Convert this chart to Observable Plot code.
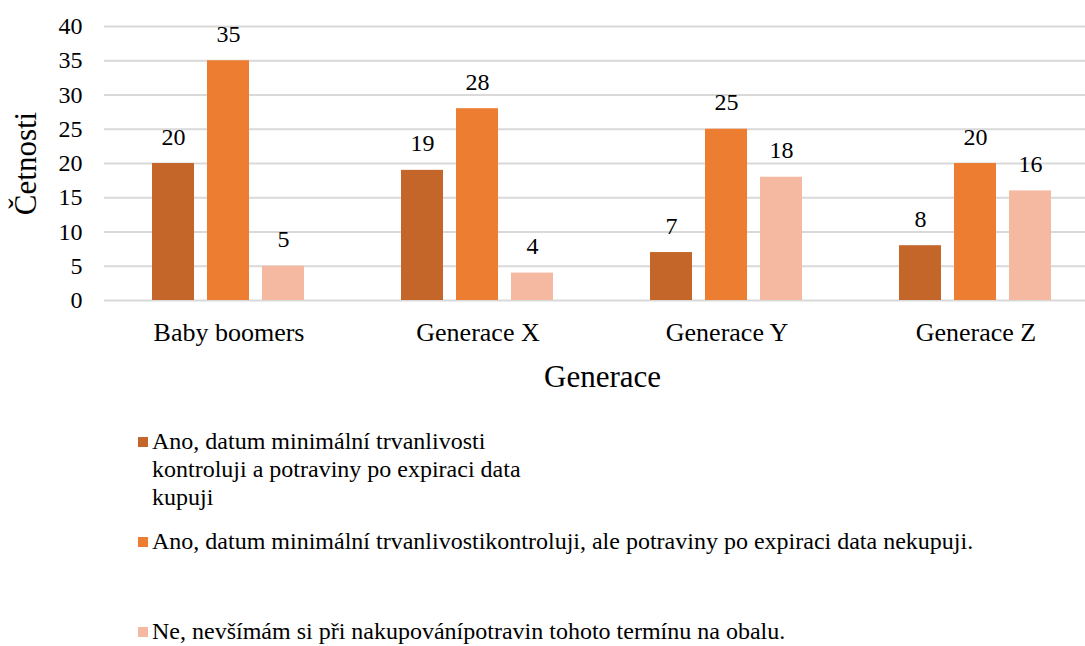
<!DOCTYPE html>
<html>
<head>
<meta charset="utf-8">
<script src="https://cdn.jsdelivr.net/npm/d3@7"></script>
<script src="https://cdn.jsdelivr.net/npm/@observablehq/plot@0.6"></script>
<style>
  html, body { margin: 0; padding: 0; background: #fff; }
  body { width: 1085px; height: 646px; overflow: hidden; font-family: "Liberation Serif", "DejaVu Serif", "Times New Roman", serif; color: #000; }
  #chart svg { display: block; overflow: visible; }
  #chart svg, #chart svg text { font-family: "Liberation Serif", "DejaVu Serif", "Times New Roman", serif !important; }
  #chart g[aria-label="fx-axis label"] text, #chart g[aria-label="y-axis label"] text { font-size: 31px; }
  #legend { margin-top: 27px; margin-left: 138px; font-size: 24px; line-height: 28px; }
  .item { display: flex; align-items: flex-start; }
  .sw { width: 10px; height: 10px; margin-top: 10px; margin-right: 4px; flex: none; }
  .item1 .txt { width: 390px; }
  .item2 { margin-top: 16px; }
  .item3 { margin-top: 62px; }
</style>
</head>
<body>
<div id="chart"></div>
<div id="legend"></div>
<script>
const generations = ["Baby boomers", "Generace X", "Generace Y", "Generace Z"];
const seriesNames = [
  "Ano, datum minimální trvanlivosti kontroluji a potraviny po expiraci data kupuji",
  "Ano, datum minimální trvanlivostikontroluji, ale potraviny po expiraci data nekupuji.",
  "Ne, nevšímám si při nakupovánípotravin tohoto termínu na obalu."
];
const valuesS1 = [20, 19, 7, 8];
const valuesS2 = [35, 28, 25, 20];
const valuesS3 = [5, 4, 18, 16];
const seriesColors = ["#c4662a", "#ed7d31", "#f5b9a2"];
const yTicks = [0, 5, 10, 15, 20, 25, 30, 35, 40];

const seriesValues = [valuesS1, valuesS2, valuesS3];
const data = [];
generations.forEach((g, i) => {
  seriesNames.forEach((s, j) => {
    data.push({generation: g, series: s, value: seriesValues[j][i]});
  });
});

const chart = Plot.plot({
  width: 1085,
  height: 400,
  marginTop: 26,
  marginBottom: 100,
  marginLeft: 104,
  marginRight: -15,
  style: {color: "#000", background: "#fff"},
  fx: {domain: generations, paddingInner: 0, paddingOuter: 0, label: "Generace"},
  x: {domain: seriesNames, paddingInner: 0.23, paddingOuter: 0.84, axis: null},
  y: {domain: [0, 40], ticks: yTicks, label: "Četnosti"},
  color: {domain: seriesNames, range: seriesColors},
  marks: [
    Plot.gridY(yTicks, {stroke: "#d9d9d9", strokeOpacity: 1, strokeWidth: 2}),
    Plot.axisY(yTicks, {tickSize: 0, tickPadding: 22, fontSize: 24, label: "Četnosti", labelAnchor: "center", labelOffset: 91, labelArrow: "none"}),
    Plot.axisFx({anchor: "bottom", tickSize: 0, tickPadding: 22, fontSize: 26, label: "Generace", labelAnchor: "center", labelOffset: 86, labelArrow: "none"}),
    Plot.barY(data, {fx: "generation", x: "series", y: "value", fill: "series"}),
    Plot.text(data, {fx: "generation", x: "series", y: "value", text: d => String(d.value), dy: -19, lineAnchor: "bottom", fontSize: 24, fill: "#000"})
  ]
});
document.getElementById("chart").appendChild(chart);

const legend = d3.select("#legend");
seriesNames.forEach((s, j) => {
  const it = legend.append("div").attr("class", "item item" + (j + 1));
  it.append("div").attr("class", "sw").style("background", seriesColors[j]);
  it.append("div").attr("class", "txt").text(s);
});
</script>
</body>
</html>
